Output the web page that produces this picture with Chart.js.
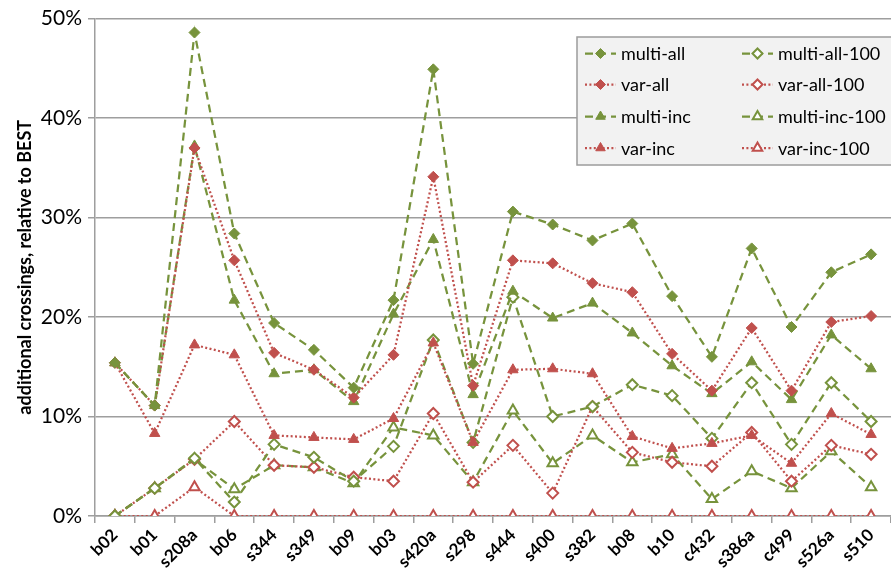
<!DOCTYPE html>
<html>
<head>
<meta charset="utf-8">
<script src="https://cdn.jsdelivr.net/npm/chart.js@4/dist/chart.umd.min.js"></script>
<style>
  html, body { margin: 0; padding: 0; background: #fff; overflow: hidden; }
  #wrap { width: 891px; height: 572px; position: relative; }
</style>
</head>
<body>
<div id="wrap"><canvas id="c" width="891" height="572"></canvas></div>
<script>
// Benchmark circuits on the x axis
const categories = ['b02', 'b01', 's208a', 'b06', 's344', 's349', 'b09', 'b03', 's420a', 's298',
                    's444', 's400', 's382', 'b08', 'b10', 'c432', 's386a', 'c499', 's526a', 's510'];

// Additional crossings relative to BEST, in percent
const multiAll    = [15.4, 11.1, 48.6, 28.4, 19.4, 16.7, 12.9, 21.7, 44.9, 15.3, 30.6, 29.3, 27.7, 29.4, 22.1, 16.0, 26.9, 19.0, 24.5, 26.3];
const varAll      = [15.4, 11.1, 37.0, 25.7, 16.4, 14.7, 11.9, 16.2, 34.1, 13.1, 25.7, 25.4, 23.4, 22.5, 16.3, 12.6, 18.9, 12.6, 19.5, 20.1];
const multiInc    = [15.4, 11.1, 37.2, 21.7, 14.3, 14.7, 11.5, 20.3, 27.8, 12.2, 22.6, 19.9, 21.4, 18.4, 15.1, 12.3, 15.5, 11.7, 18.2, 14.8];
const varInc      = [15.4,  8.3, 17.2, 16.2,  8.1,  7.9,  7.7,  9.8, 17.4,  7.4, 14.7, 14.8, 14.3,  8.0,  6.8,  7.3,  8.1,  5.3, 10.3,  8.2];
const multiAll100 = [0.0,  2.8,  5.8,  1.4,  7.2,  5.9,  3.5,  7.0, 17.7,  7.4, 22.0, 10.0, 11.0, 13.2, 12.1,  7.8, 13.4,  7.2, 13.4,  9.5];
const varAll100   = [0.0,  2.8,  5.7,  9.5,  5.1,  4.9,  3.9,  3.5, 10.3,  3.4,  7.1,  2.3, 11.0,  6.4,  5.4,  5.0,  8.4,  3.5,  7.1,  6.2];
const multiInc100 = [0.0,  2.8,  5.7,  2.7,  5.1,  4.9,  3.3,  8.9,  8.1,  3.4, 10.6,  5.3,  8.1,  5.4,  6.2,  1.7,  4.5,  2.8,  6.5,  2.9];
const varInc100   = [0.0,  0.0,  2.9,  0.0,  0.0,  0.0,  0.0,  0.0,  0.0,  0.0,  0.0,  0.0,  0.0,  0.0,  0.0,  0.0,  0.0,  0.0,  0.0,  0.0];

// Y axis tick values (percent)
const yTicks = [0, 10, 20, 30, 40, 50];

const GREEN = '#77933C';
const RED = '#C0504D';
const FONT = 'Lato, "Open Sans", sans-serif';

function series(label, data, color, dashed, style, filled) {
  return {
    label,
    data,
    borderColor: color,
    borderWidth: 2.25,
    borderDash: dashed ? [8, 5] : [2, 2.4],
    borderCapStyle: 'butt',
    tension: 0,
    fill: false,
    pointStyle: style,
    pointRadius: style === 'rectRot' ? 5.5 : 6,
    pointHoverRadius: 6,
    pointBackgroundColor: filled ? color : '#FFFFFF',
    pointBorderColor: color,
    pointBorderWidth: filled ? 1 : 2,
    dashed
  };
}

const datasets = [
  series('multi-all',     multiAll,    GREEN, true,  'rectRot',  true),
  series('var-all',       varAll,      RED,   false, 'rectRot',  true),
  series('multi-inc',     multiInc,    GREEN, true,  'triangle', true),
  series('var-inc',       varInc,      RED,   false, 'triangle', true),
  series('multi-all-100', multiAll100, GREEN, true,  'rectRot',  false),
  series('var-all-100',   varAll100,   RED,   false, 'rectRot',  false),
  series('multi-inc-100', multiInc100, GREEN, true,  'triangle', false),
  series('var-inc-100',   varInc100,   RED,   false, 'triangle', false)
];

// Boxed two-column legend drawn inside the plot area
const boxLegend = {
  id: 'boxLegend',
  afterDatasetsDraw(chart) {
    const ctx = chart.ctx;
    const bx = 577, by = 37, bw = 316, bh = 128;
    ctx.save();
    ctx.fillStyle = '#F2F2F2';
    ctx.fillRect(bx, by, bw, bh);
    ctx.strokeStyle = '#9C9C9C';
    ctx.lineWidth = 1.5;
    ctx.strokeRect(bx, by, bw, bh);
    const cols = [{ x0: 585, text: 621 }, { x0: 742, text: 778 }];
    const rowY = [53.5, 84.5, 116.5, 148];
    chart.data.datasets.forEach((ds, i) => {
      const col = cols[Math.floor(i / 4)];
      const y = rowY[i % 4];
      ctx.save();
      ctx.strokeStyle = ds.borderColor;
      ctx.lineWidth = ds.borderWidth;
      ctx.setLineDash(ds.dashed ? [8, 5] : [2, 2.4]);
      ctx.beginPath();
      ctx.moveTo(col.x0, y);
      ctx.lineTo(col.x0 + 31, y);
      ctx.stroke();
      ctx.setLineDash([]);
      ctx.fillStyle = ds.pointBackgroundColor;
      ctx.strokeStyle = ds.pointBorderColor;
      ctx.lineWidth = ds.pointBorderWidth;
      Chart.helpers.drawPoint(ctx, {
        pointStyle: ds.pointStyle,
        radius: ds.pointStyle === 'rectRot' ? 5 : 5.5,
        rotation: 0,
        borderWidth: ds.pointBorderWidth
      }, col.x0 + 15.5, y);
      ctx.restore();
      ctx.fillStyle = '#000';
      ctx.font = '18px ' + FONT;
      ctx.textBaseline = 'middle';
      ctx.textAlign = 'left';
      ctx.fillText(ds.label, col.text, y + 1);
    });
    ctx.restore();
  }
};

new Chart(document.getElementById('c'), {
  type: 'line',
  data: { labels: categories, datasets },
  plugins: [boxLegend],
  options: {
    responsive: false,
    animation: false,
    devicePixelRatio: 1,
    // the plot runs right up to the edge of the canvas
    layout: { autoPadding: false, padding: { top: 16, right: 0, bottom: 0, left: 0 } },
    plugins: {
      legend: { display: false },
      tooltip: { enabled: false }
    },
    scales: {
      x: {
        type: 'category',
        offset: true,
        grid: {
          display: true,
          drawOnChartArea: false,
          drawTicks: true,
          tickLength: 7,
          offset: true,
          color: '#9E9E9E',
          lineWidth: 1.5
        },
        border: { color: '#9E9E9E', width: 1.5 },
        ticks: {
          autoSkip: false,
          minRotation: 45,
          maxRotation: 45,
          padding: 2,
          color: '#000',
          font: { family: FONT, size: 17, weight: 'bold' }
        },
        afterFit(scale) {
          scale.height = 56;
          scale.paddingLeft = 0;
          scale.paddingRight = 0;
        }
      },
      y: {
        min: 0,
        max: 50,
        afterBuildTicks(scale) { scale.ticks = yTicks.map(v => ({ value: v })); },
        grid: {
          color: '#9E9E9E',
          lineWidth: 1.5,
          tickLength: 7,
          drawTicks: true
        },
        border: { color: '#9E9E9E', width: 1.5 },
        ticks: {
          padding: 6,
          color: '#000',
          font: { family: FONT, size: 21 },
          callback: v => v + '%'
        },
        title: {
          display: true,
          text: 'additional crossings, relative to BEST',
          color: '#000',
          font: { family: FONT, size: 18, weight: 'bold' },
          padding: { top: 14, bottom: 0 }
        },
        afterFit(scale) { scale.width = 95; }
      }
    }
  }
});
</script>
</body>
</html>
